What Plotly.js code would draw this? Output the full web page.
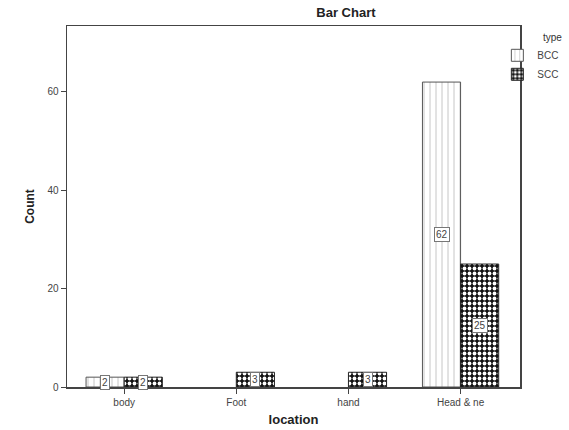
<!DOCTYPE html>
<html>
<head>
<meta charset="utf-8">
<script src="https://cdn.plot.ly/plotly-3.0.1.min.js"></script>
<style>html,body{margin:0;padding:0;background:#fff;}#chart{width:569px;height:430px;}</style>
</head>
<body>
<div id="chart"></div>
<script>
const categories = ["body", "Foot", "hand", "Head & ne"];
const seriesNames = ["BCC", "SCC"];
const bccValues = [2, null, null, 62];
const sccValues = [2, 3, 3, 25];
const yTicks = [0, 20, 40, 60];

const bargap = 0.32;
const barW = (1 - bargap) / 2;

const traces = [
  {
    type: "bar", name: seriesNames[0], x: categories, y: bccValues,
    marker: {color: "#ffffff", line: {color: "#555555", width: 1},
      pattern: {shape: "|", fgcolor: "#b0b0b0", bgcolor: "#ffffff", size: 6, solidity: 0.12}},
    hoverinfo: "none"
  },
  {
    type: "bar", name: seriesNames[1], x: categories, y: sccValues,
    marker: {color: "#000000", line: {color: "#222222", width: 1},
      pattern: {shape: ".", fgcolor: "#ffffff", bgcolor: "#111111", size: 5, solidity: 0.45}},
    hoverinfo: "none"
  }
];

const annotations = [];
[bccValues, sccValues].forEach((vals, s) => {
  const off = (s === 0 ? -1 : 1) * barW / 2;
  vals.forEach((v, i) => {
    if (v === null) return;
    annotations.push({
      x: i + off, y: v / 2, xref: "x", yref: "y", text: String(v), showarrow: false,
      bgcolor: "#ffffff", bordercolor: "#777777", borderwidth: 1, borderpad: 1,
      font: {family: "Liberation Sans, Arial, sans-serif", size: 10, color: "#444"}
    });
  });
});

const layout = {
  width: 569, height: 430,
  margin: {l: 67, r: 49, t: 26, b: 43, autoexpand: false},
  paper_bgcolor: "#ffffff", plot_bgcolor: "#ffffff",
  font: {family: "Liberation Sans, Arial, sans-serif", color: "#333"},
  title: {text: "<b>Bar Chart</b>", x: 0.608, xanchor: "center", y: 0.97, yanchor: "middle",
    font: {size: 13, color: "#222"}},
  barmode: "group", bargap: bargap, bargroupgap: 0,
  xaxis: {
    type: "category", range: [-0.51, 3.53],
    showline: true, linecolor: "#444", linewidth: 1.5, mirror: true,
    ticks: "outside", ticklen: 5, tickcolor: "#444",
    tickfont: {size: 10, color: "#444"}, showgrid: false, zeroline: false,
    title: {text: "<b>location</b>", font: {size: 13, color: "#222"}, standoff: 8}
  },
  yaxis: {
    range: [0, 73.4], tickvals: yTicks,
    showline: true, linecolor: "#444", linewidth: 1.5, mirror: true,
    ticks: "outside", ticklen: 5, tickcolor: "#444",
    tickfont: {size: 10, color: "#444"}, showgrid: false, zeroline: false,
    title: {text: "<b>Count</b>", font: {size: 12, color: "#222"}, standoff: 10}
  },
  legend: {
    x: 0.95, xanchor: "left", y: 0.995, yanchor: "top",
    title: {text: "type", side: "top right", font: {size: 10, color: "#333"}},
    font: {size: 10, color: "#444"}, tracegroupgap: 0, itemwidth: 30,
    bgcolor: "rgba(0,0,0,0)"
  },
  annotations: annotations,
  showlegend: true
};

Plotly.newPlot("chart", traces, layout, {displayModeBar: false, staticPlot: true});
</script>
</body>
</html>
